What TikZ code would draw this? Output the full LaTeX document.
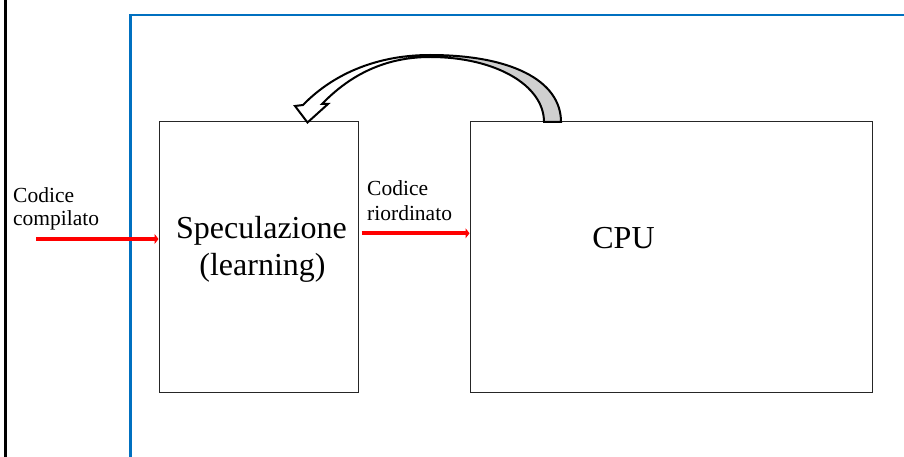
\documentclass[tikz,border=0pt]{standalone}
\usepackage{fontspec}
\setmainfont{Liberation Serif}
\usetikzlibrary{arrows.meta}
\definecolor{frameblue}{HTML}{0070C0}
\definecolor{ribbongray}{HTML}{CFCFCF}
\tikzset{
  box/.style={draw=black!85, line width=1pt},
  bigtxt/.style={font=\fontsize{32}{37}\selectfont, inner sep=0pt},
  smalltxt/.style={font=\fontsize{21.5}{24}\selectfont, inner sep=0pt},
  redarrow/.style={draw=red, line width=4pt, -{Triangle[length=4pt,width=10pt]}},
  frameline/.style={draw=frameblue, line width=2.3pt},
}
\begin{document}
\begin{tikzpicture}[x=1pt,y=-1pt]
\useasboundingbox (0,0) rectangle (904,457);
% frame lines
\coordinate (k1) at (5.3,0); \coordinate (k2) at (5.3,457);
\draw[line width=2.5pt] (k1) -- (k2);
\coordinate (b1) at (130.5,457); \coordinate (b2) at (130.5,15.3); \coordinate (b3) at (904,15.3);
\draw[frameline] (b1) -- (b2) -- (b3);
% boxes
\node[box, minimum width=199.5pt, minimum height=270.5pt, inner sep=0pt, anchor=north west] (spec) at (158.5,121) {};
\node[box, minimum width=402pt, minimum height=270.5pt, inner sep=0pt, anchor=north west] (cpu) at (469.5,121) {};
% texts
\node[bigtxt, anchor=base] (s1) at (261.5,238) {Speculazione};
\node[bigtxt, anchor=base] (s2) at (262.5,275) {(learning)};
\node[bigtxt, anchor=base] (c1) at (623.5,248) {CPU};
\node[smalltxt, anchor=base west] (l1) at (13,202.5) {Codice};
\node[smalltxt, anchor=base west] (l2) at (13,225) {compilato};
\node[smalltxt, anchor=base west] (r1) at (367,196) {Codice};
\node[smalltxt, anchor=base west] (r2) at (367,220) {riordinato};
% red arrows
\coordinate (a0) at (36,239);
\draw[redarrow] (a0) -- (spec.west |- a0);
\coordinate (a1) at (361.5,233.3);
\draw[redarrow] (a1) -- (cpu.west |- a1);
% curved block arrow
\def\ribbon{(561,122) .. controls (561,80) and (510,55) .. (430,55)
  .. controls (380,55) and (335,72) .. (303,105)
  -- (295,106) -- (307.5,122.5) -- (328,104) -- (322,104)
  .. controls (350,75) and (385,57) .. (430,57)
  .. controls (495,57) and (544,85) .. (544,122) -- cycle}
\fill[white] \ribbon;
\fill[ribbongray] (561,122) .. controls (561,80) and (510,55) .. (430,55)
  -- (430,57) .. controls (495,57) and (544,85) .. (544,122) -- cycle;
\draw[line width=2pt, line join=miter] \ribbon;
\end{tikzpicture}
\end{document}
